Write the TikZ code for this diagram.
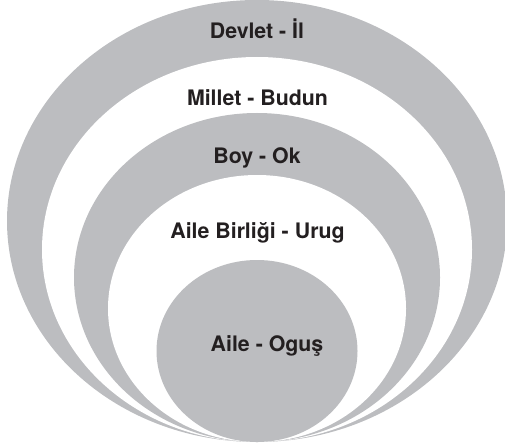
\documentclass[tikz,border=0pt]{standalone}
\usepackage{fontspec}
\setmainfont{TeX Gyre Heros}
\definecolor{ringgrey}{RGB}{188,189,192}
\definecolor{labelink}{RGB}{35,31,32}
\begin{document}
\begin{tikzpicture}[x=0.75pt,y=0.75pt,yscale=-1,xscale=1,
	greyring/.style={fill=ringgrey},
	whitering/.style={fill=white},
	ringlabel/.style={anchor=base,inner sep=0.75pt,text=labelink,font=\fontsize{16}{19}\selectfont\bfseries}]
	\useasboundingbox (0,0) rectangle (505,445);
	
	%Shape: Ellipse [Devlet]
	\path [greyring] (257,221) ellipse [x radius=250,y radius=221];
	%Shape: Ellipse [Millet]
	\path [whitering] (257,249.5) ellipse [x radius=215,y radius=192.5];
	%Shape: Ellipse [Boy]
	\path [greyring] (257,277.5) ellipse [x radius=183,y radius=164.5];
	%Shape: Ellipse [Aile Birligi]
	\path [whitering] (257,308.5) ellipse [x radius=149,y radius=133.5];
	%Shape: Ellipse [Aile]
	\path [greyring] (257,351) ellipse [x radius=100.5,y radius=91];
	
	% Text Node
	\node [ringlabel] (devlet) at (257,39) {Devlet - İl};
	% Text Node
	\node [ringlabel] (millet) at (257.5,106) {Millet - Budun};
	% Text Node
	\node [ringlabel] (boy) at (257,163) {Boy - Ok};
	% Text Node
	\node [ringlabel] (birlik) at (257.5,238) {Aile Birliği - Urug};
	% Text Node
	\node [ringlabel] (aile) at (267,351) {Aile - Oguş};
	
\end{tikzpicture}
\end{document}
